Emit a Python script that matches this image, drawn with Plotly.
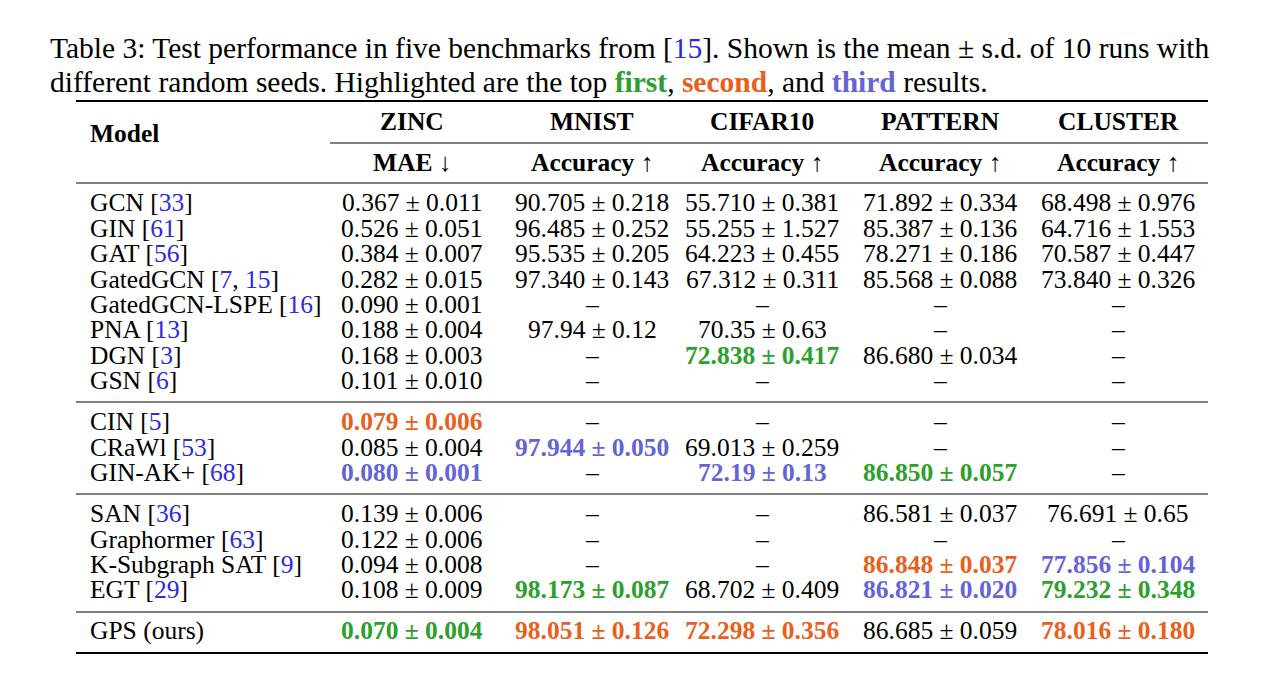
import plotly.graph_objs as go

GREEN = '#2ca02c'
ORANGE = '#e8601c'
PURPLE = '#6464d8'
CITE = '#2a2ae0'
FONT = 'Liberation Serif'

def cite(name, refs):
    """
    Model name with coloured citation numbers.
    """
    if not refs:
        return name
    inner = ', '.join(f"<span style='color:{CITE}'>{r}</span>" for r in refs)
    return f"{name} [{inner}]"

def cell(value, mark=None):
    colors = {'1': GREEN, '2': ORANGE, '3': PURPLE}
    if mark is None:
        return value
    return f"<b><span style='color:{colors[mark]}'>{value}</span></b>"

# rows: (name, refs, y, [(value, mark) for each dataset])
rows = [
    ('GCN', ['33'], 202, [('0.367 ± 0.011', None), ('90.705 ± 0.218', None), ('55.710 ± 0.381', None), ('71.892 ± 0.334', None), ('68.498 ± 0.976', None)]),
    ('GIN', ['61'], 228, [('0.526 ± 0.051', None), ('96.485 ± 0.252', None), ('55.255 ± 1.527', None), ('85.387 ± 0.136', None), ('64.716 ± 1.553', None)]),
    ('GAT', ['56'], 253, [('0.384 ± 0.007', None), ('95.535 ± 0.205', None), ('64.223 ± 0.455', None), ('78.271 ± 0.186', None), ('70.587 ± 0.447', None)]),
    ('GatedGCN', ['7', '15'], 279, [('0.282 ± 0.015', None), ('97.340 ± 0.143', None), ('67.312 ± 0.311', None), ('85.568 ± 0.088', None), ('73.840 ± 0.326', None)]),
    ('GatedGCN-LSPE', ['16'], 304, [('0.090 ± 0.001', None), ('–', None), ('–', None), ('–', None), ('–', None)]),
    ('PNA', ['13'], 329, [('0.188 ± 0.004', None), ('97.94 ± 0.12', None), ('70.35 ± 0.63', None), ('–', None), ('–', None)]),
    ('DGN', ['3'], 355, [('0.168 ± 0.003', None), ('–', None), ('72.838 ± 0.417', '1'), ('86.680 ± 0.034', None), ('–', None)]),
    ('GSN', ['6'], 380, [('0.101 ± 0.010', None), ('–', None), ('–', None), ('–', None), ('–', None)]),
    ('CIN', ['5'], 421, [('0.079 ± 0.006', '2'), ('–', None), ('–', None), ('–', None), ('–', None)]),
    ('CRaWl', ['53'], 447, [('0.085 ± 0.004', None), ('97.944 ± 0.050', '3'), ('69.013 ± 0.259', None), ('–', None), ('–', None)]),
    ('GIN-AK+', ['68'], 472, [('0.080 ± 0.001', '3'), ('–', None), ('72.19 ± 0.13', '3'), ('86.850 ± 0.057', '1'), ('–', None)]),
    ('SAN', ['36'], 513, [('0.139 ± 0.006', None), ('–', None), ('–', None), ('86.581 ± 0.037', None), ('76.691 ± 0.65', None)]),
    ('Graphormer', ['63'], 539, [('0.122 ± 0.006', None), ('–', None), ('–', None), ('–', None), ('–', None)]),
    ('K-Subgraph SAT', ['9'], 564, [('0.094 ± 0.008', None), ('–', None), ('–', None), ('86.848 ± 0.037', '2'), ('77.856 ± 0.104', '3')]),
    ('EGT', ['29'], 589, [('0.108 ± 0.009', None), ('98.173 ± 0.087', '1'), ('68.702 ± 0.409', None), ('86.821 ± 0.020', '3'), ('79.232 ± 0.348', '1')]),
    ('GPS (ours)', [], 630, [('0.070 ± 0.004', '1'), ('98.051 ± 0.126', '2'), ('72.298 ± 0.356', '2'), ('86.685 ± 0.059', None), ('78.016 ± 0.180', '2')]),
]

datasets = ['ZINC', 'MNIST', 'CIFAR10', 'PATTERN', 'CLUSTER']
metrics = ['MAE ↓', 'Accuracy ↑', 'Accuracy ↑', 'Accuracy ↑', 'Accuracy ↑']
col_x = [412, 592, 762, 940, 1118]

def generate_table():

    """
    Builds the table as text annotations and rule lines.
    """
    annotations = []

    def text(x, y, s, size=25.5, anchor='center'):
        annotations.append(dict(x=x, y=y, xref='x', yref='y', text=s, showarrow=False,
                                xanchor=anchor, yanchor='middle', font=dict(family=FONT, size=size, color='black')))

    # caption
    text(48, 48, f"Table 3: Test performance in five benchmarks from [<span style='color:{CITE}'>15</span>]. "
                 "Shown is the mean ± s.d. of 10 runs with", size=29.5, anchor='left')
    text(48, 82, "different random seeds. Highlighted are the top "
                 f"<b><span style='color:{GREEN}'>first</span></b>, <b><span style='color:{ORANGE}'>second</span></b>, "
                 f"and <b><span style='color:{PURPLE}'>third</span></b> results.", size=29.5, anchor='left')

    # header
    text(88, 133, '<b>Model</b>', anchor='left')
    for x, d, m in zip(col_x, datasets, metrics):
        text(x, 121, f'<b>{d}</b>')
        text(x, 162, f'<b>{m}</b>')

    # body
    for name, refs, y, values in rows:
        text(88, y, cite(name, refs), anchor='left')
        for x, (v, mark) in zip(col_x, values):
            text(x, y, cell(v, mark))

    # rules
    shapes = []
    for y0, x0, w in [(101, 76, 2), (143, 330, 1), (183, 76, 1), (402, 76, 1), (494, 76, 1), (612, 76, 1), (653, 76, 2)]:
        shapes.append(dict(type='line', xref='x', yref='y', x0=x0, x1=1208, y0=y0, y1=y0,
                           line=dict(color='black', width=w)))

    layout = go.Layout(
        width=1271,
        height=680,
        margin=dict(l=0, r=0, t=0, b=0),
        xaxis=dict(range=[8, 1279], visible=False),  # page body adds an 8px offset
        yaxis=dict(range=[688, 8], visible=False),
        plot_bgcolor='white',
        paper_bgcolor='white',
        annotations=annotations,
        shapes=shapes,
        showlegend=False,
    )
    fig = go.Figure(data=[go.Scatter(x=[], y=[])], layout=layout)
    return fig

fig = generate_table()
fig.write_html('out.html')
